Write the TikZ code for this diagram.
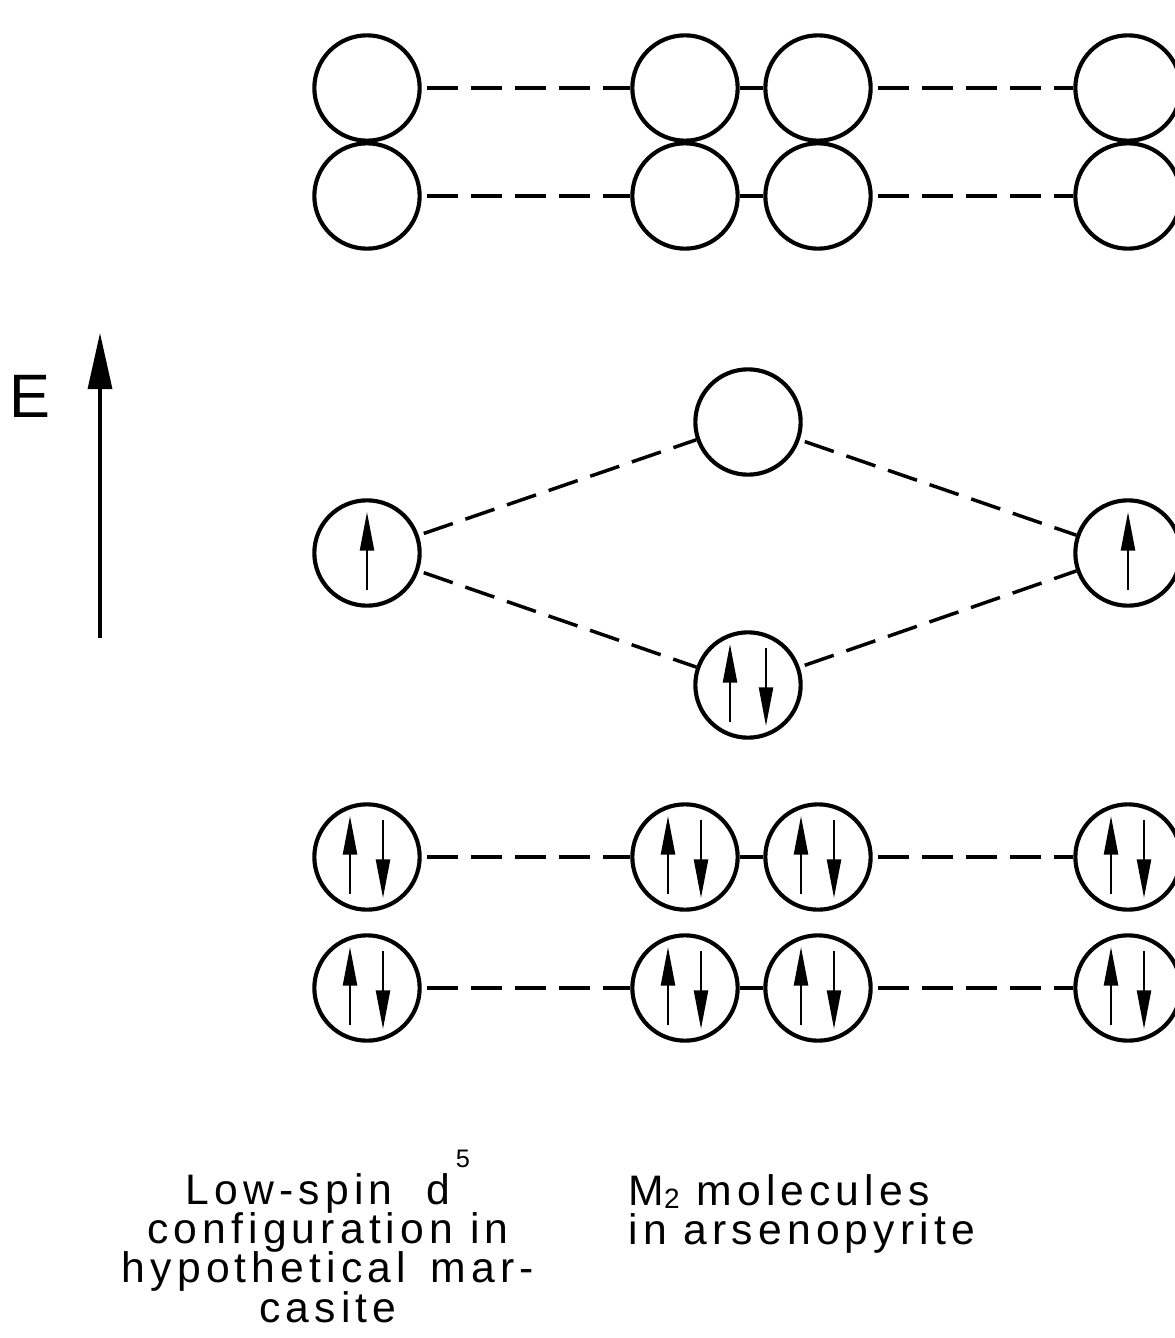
\documentclass[tikz,border=0pt]{standalone}
\usepackage{fontspec}
\setmainfont[LetterSpace=12]{Liberation Sans}
\usetikzlibrary{arrows.meta,calc}

\newcommand\captionfont{\fontsize{32}{29.5}\selectfont\lineskiplimit=-100pt\relax}
\tikzset{every picture/.style={line width=0.75pt}}
\tikzset{
  orb/.style={draw, circle, line width=3.1pt, minimum size=79pt, inner sep=0pt},
  link/.style={line width=2.6pt},
  weak/.style={line width=2.6pt, dash pattern=on 23pt off 10pt, dash phase=-4pt},
  spin/.style={line width=1.8pt, -{Triangle[length=29pt,width=10.5pt]}},
  axis/.style={line width=2.4pt, -{Triangle[length=42pt,width=18pt]}},
  caption/.style={font=\captionfont, inner sep=0pt},
}
\newcommand\upspin[2]{\draw[spin] ($(#1)+(#2,37)$) -- ($(#1)+(#2,-41)$);}
\newcommand\downspin[2]{\draw[spin] ($(#1)+(#2,-37)$) -- ($(#1)+(#2,41)$);}

\begin{document}
\begin{tikzpicture}[x=0.75pt,y=0.75pt,yscale=-1,xscale=1]
		\useasboundingbox (0,0) rectangle (1174,1338);

		%Empty levels, top two rows
		\node [orb] (a1) at (367,88) {};
		\node [orb] (b1) at (685,88) {};
		\node [orb] (c1) at (818,88) {};
		\node [orb] (d1) at (1128,88) {};
		\node [orb] (a2) at (367,196) {};
		\node [orb] (b2) at (685,196) {};
		\node [orb] (c2) at (818,196) {};
		\node [orb] (d2) at (1128,196) {};
		\draw [weak] (a1) -- (b1);
		\draw [link] (b1) -- (c1);
		\draw [weak] (c1) -- (d1);
		\draw [weak] (a2) -- (b2);
		\draw [link] (b2) -- (c2);
		\draw [weak] (c2) -- (d2);

		%Bonding and antibonding pair
		\node [orb] (ml) at (367,553) {};
		\node [orb] (mt) at (748,422) {};
		\node [orb] (mb) at (748,685) {};
		\node [orb] (mr) at (1128,553) {};
		\draw [weak] (ml) -- (mt);
		\draw [weak] (ml) -- (mb);
		\draw [weak] (mt) -- (mr);
		\draw [weak] (mb) -- (mr);
		\upspin{ml}{0}
		\upspin{mr}{0}
		\upspin{mb}{-18}
		\downspin{mb}{18}

		%Filled levels, bottom two rows
		\node [orb] (a3) at (367,857) {};
		\node [orb] (b3) at (685,857) {};
		\node [orb] (c3) at (818,857) {};
		\node [orb] (d3) at (1128,857) {};
		\node [orb] (a4) at (367,988) {};
		\node [orb] (b4) at (685,988) {};
		\node [orb] (c4) at (818,988) {};
		\node [orb] (d4) at (1128,988) {};
		\draw [weak] (a3) -- (b3);
		\draw [link] (b3) -- (c3);
		\draw [weak] (c3) -- (d3);
		\draw [weak] (a4) -- (b4);
		\draw [link] (b4) -- (c4);
		\draw [weak] (c4) -- (d4);
		\foreach \o in {a3,b3,c3,d3,a4,b4,c4,d4} {
			\upspin{\o}{-17}
			\downspin{\o}{16}
		}

		%Energy axis
		\coordinate (e0) at (100,638);
		\coordinate (e1) at (100,333);
		\draw [axis] (e0) -- (e1);
		\node [font=\fontsize{46}{46}\selectfont, inner sep=0pt] (elabel) at (30,396) {E};

		% Text Node
		\node [caption, align=center, anchor=north] (lowspin) at (328,1150) {Low-spin\hspace{13pt} d\hspace{4pt}\raisebox{0.85em}{\fontsize{19}{19}\selectfont 5}\\configuration in\\hypothetical\hspace{6pt} mar-\\casite};
		% Text Node
		\node [caption, align=left, anchor=north west] (mtwo) at (628,1174) {M\raisebox{-0.08em}{\fontsize{21}{21}\selectfont 2} molecules\\in arsenopyrite};

\end{tikzpicture}
\end{document}
